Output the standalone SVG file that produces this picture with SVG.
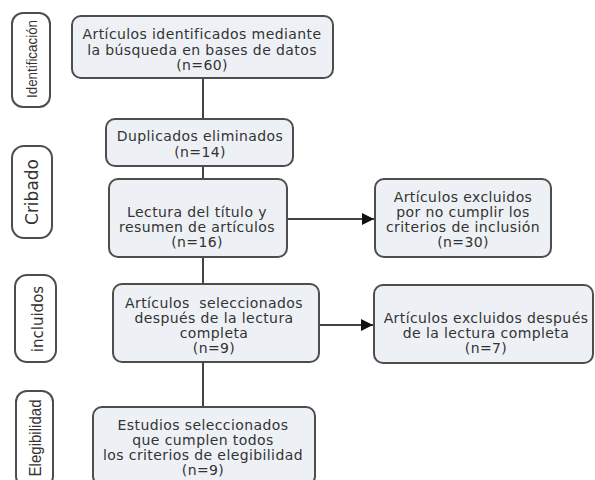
<svg xmlns="http://www.w3.org/2000/svg" width="595" height="480" viewBox="0 0 595 480">
<style>
.box{fill:#edf1f5;stroke:#4d4d4d;stroke-width:2}
.side{fill:#ffffff;stroke:#4d4d4d;stroke-width:2}
.t{font-family:"DejaVu Sans",Verdana,sans-serif;font-size:14px;fill:#333;text-anchor:middle;letter-spacing:0.4px}
.s{font-family:"Liberation Sans",Arial,sans-serif;fill:#333;text-anchor:middle}
.c{stroke:#444;stroke-width:2;fill:none}
</style>
<defs>
<marker id="ah" viewBox="0 0 10 10" refX="10" refY="5" markerWidth="6" markerHeight="6" markerUnits="strokeWidth" orient="auto">
<path d="M0,0 L10,5 L0,10 z" fill="#111"/>
</marker>
</defs>
<rect width="595" height="480" fill="#ffffff"/>
<g id="connectors">
<line class="c" x1="203" y1="78" x2="203" y2="119"/>
<line class="c" x1="203" y1="166" x2="203" y2="179"/>
<line class="c" x1="203" y1="257" x2="203" y2="284"/>
<line class="c" x1="203" y1="362" x2="203" y2="407"/>
<line class="c" x1="287" y1="219" x2="374" y2="219" marker-end="url(#ah)"/>
<line class="c" x1="319" y1="325" x2="373" y2="325" marker-end="url(#ah)"/>
</g>
<g id="lbl-identificacion">
<rect class="side" x="12" y="13" width="38" height="94" rx="11"/>
<text class="s" font-size="15.5" textLength="78" lengthAdjust="spacingAndGlyphs" transform="translate(36.5,59) rotate(-90)">Identificación</text>
</g>
<g id="lbl-cribado">
<rect class="side" x="12" y="146" width="40" height="92" rx="12"/>
<text class="s" style="font-family:'DejaVu Sans',sans-serif" font-size="17" transform="translate(38,192) rotate(-90)">Cribado</text>
</g>
<g id="lbl-incluidos">
<rect class="side" x="15" y="275" width="41" height="87" rx="12"/>
<text class="s" style="font-family:'DejaVu Sans',sans-serif" font-size="15" transform="translate(43,319) rotate(-90)">incluidos</text>
</g>
<g id="lbl-elegibilidad">
<rect class="side" x="16" y="391" width="37" height="96" rx="11"/>
<text class="s" font-size="17" textLength="77" lengthAdjust="spacingAndGlyphs" transform="translate(41,438) rotate(-90)">Elegibilidad</text>
</g>
<g id="n-identificados">
<rect class="box" x="72" y="16" width="261" height="62" rx="9"/>
<text class="t" x="202" y="39">Artículos identificados mediante</text>
<text class="t" x="202" y="55">la búsqueda en bases de datos</text>
<text class="t" x="202" y="70">(n=60)</text>
</g>
<g id="n-duplicados">
<rect class="box" x="106" y="119" width="187" height="47" rx="9"/>
<text class="t" x="200" y="141">Duplicados eliminados</text>
<text class="t" x="200" y="157">(n=14)</text>
</g>
<g id="n-lectura">
<rect class="box" x="109" y="179" width="178" height="78" rx="9"/>
<text class="t" x="197" y="217">Lectura del título y</text>
<text class="t" x="197" y="232">resumen de artículos</text>
<text class="t" x="197" y="247">(n=16)</text>
</g>
<g id="n-excluidos1">
<rect class="box" x="375" y="179" width="176" height="78" rx="9"/>
<text class="t" x="463" y="202">Artículos excluidos</text>
<text class="t" x="463" y="217">por no cumplir los</text>
<text class="t" x="463" y="232">criterios de inclusión</text>
<text class="t" x="463" y="247">(n=30)</text>
</g>
<g id="n-seleccionados">
<rect class="box" x="113" y="284" width="206" height="78" rx="9"/>
<text class="t" x="214" y="308" xml:space="preserve">Artículos  seleccionados</text>
<text class="t" x="214" y="323">después de la lectura</text>
<text class="t" x="214" y="338">completa</text>
<text class="t" x="214" y="353">(n=9)</text>
</g>
<g id="n-excluidos2">
<rect class="box" x="374" y="285" width="219" height="78" rx="9"/>
<text class="t" x="486" y="323">Artículos excluidos después</text>
<text class="t" x="486" y="338">de la lectura completa</text>
<text class="t" x="486" y="353">(n=7)</text>
</g>
<g id="n-estudios">
<rect class="box" x="93" y="407" width="222" height="78" rx="9"/>
<text class="t" x="203" y="430">Estudios seleccionados</text>
<text class="t" x="203" y="445">que cumplen todos</text>
<text class="t" x="203" y="460">los criterios de elegibilidad</text>
<text class="t" x="203" y="475">(n=9)</text>
</g>
</svg>
